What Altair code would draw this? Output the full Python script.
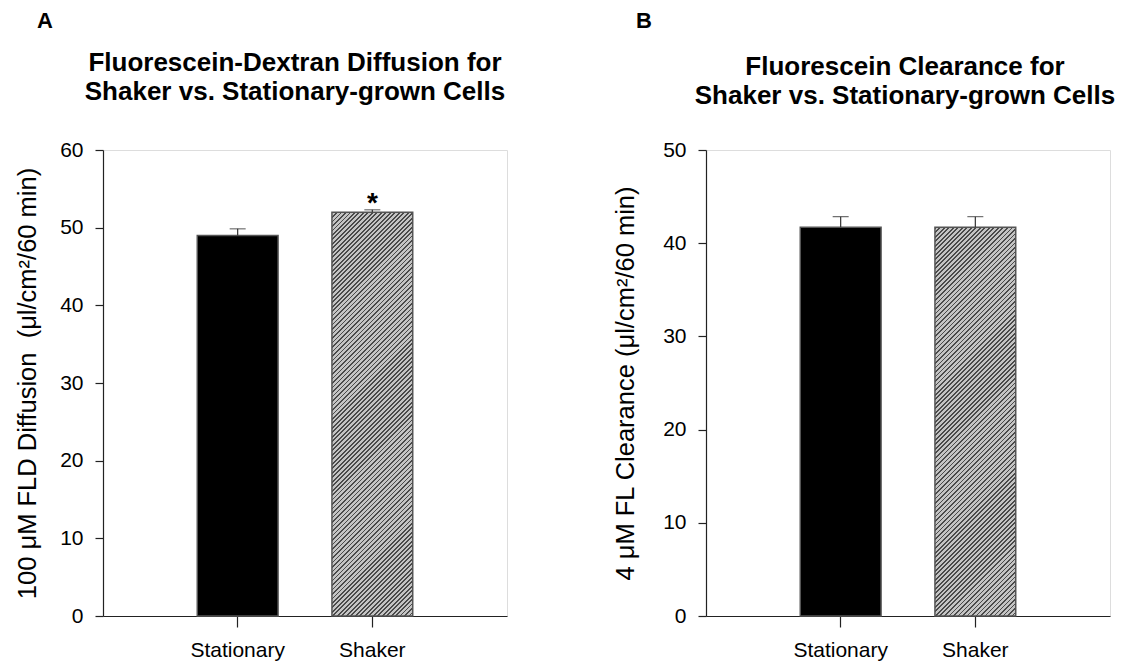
import altair as alt
import pandas as pd

# ---- values -------------------------------------------------------------
groups = ["Stationary", "Shaker"]

fld_mean = [49.0, 52.0]      # 100 uM FLD diffusion, ul/cm2/60 min
fld_sem = [0.85, 0.30]
fld_sig = ["", "*"]

fl_mean = [41.7, 41.7]       # 4 uM FL clearance, ul/cm2/60 min
fl_sem = [1.15, 1.15]
fl_sig = ["", ""]

panel_letters = ["A", "B"]
panel_titles = [
    "Fluorescein-Dextran Diffusion for\nShaker vs. Stationary-grown Cells",
    "Fluorescein Clearance for\nShaker vs. Stationary-grown Cells",
]
y_titles = [
    "100 \u03bcM FLD Diffusion\u00a0\u00a0(\u03bcl/cm\u00b2/60 min)",
    "4 \u03bcM FL Clearance (\u03bcl/cm\u00b2/60 min)",
]
y_max = [60, 50]

FONT = "Liberation Sans"
PLOT_W = 404
PLOT_H = 466


def hatch_fill(width_px, height_px, period=4.5, frac=0.38,
               dark="#4a4a4a", light="#c4c4c4"):
    """Diagonal '/' hatching built as a hard-stop linear gradient."""
    r = height_px / width_px
    s = (1 + r) / (1 + r * r)
    n = int(round((width_px + height_px) / period))
    stops = []
    for k in range(n):
        a, b, c = k / n, (k + frac) / n, (k + 1) / n
        stops += [
            alt.GradientStop(offset=a, color=dark),
            alt.GradientStop(offset=b, color=dark),
            alt.GradientStop(offset=b, color=light),
            alt.GradientStop(offset=c, color=light),
        ]
    return alt.LinearGradient(gradient="linear", stops=stops,
                              x1=0, y1=0, x2=s, y2=s * r)


def panel(mean, sem, sig, letter, title, ytitle, ymax, title_x, title_y,
          letter_x, letter_y, title_pad):
    df = pd.DataFrame({"group": groups, "mean": mean, "sem": sem, "sig": sig})
    base = alt.Chart(df).transform_calculate(top="datum.mean + datum.sem")

    x = alt.X(
        "group:N", sort=groups, title=None,
        scale=alt.Scale(paddingInner=0.4, paddingOuter=0.7),
        axis=alt.Axis(labelAngle=0, labelFontSize=21, labelFont=FONT,
                      labelColor="black", labelPadding=12, tickSize=11,
                      tickColor="#222", domainColor="#222", tickWidth=1.2,
                      domainWidth=1.2, grid=False),
    )
    y = alt.Y(
        "mean:Q", title=ytitle,
        scale=alt.Scale(domain=[0, ymax], nice=False, zero=True),
        axis=alt.Axis(values=list(range(0, ymax + 1, 10)), tickSize=8,
                      labelFontSize=21, labelFont=FONT, labelColor="black",
                      labelPadding=12, titleFontSize=25.5, titleFont=FONT,
                      titleFontWeight="normal", titleColor="black",
                      titlePadding=title_pad, tickColor="#222",
                      domainColor="#222", tickWidth=1.2, domainWidth=1.2,
                      grid=False),
    )

    band_w = 0.6 * PLOT_W / 3
    shaker_h = mean[1] / ymax * PLOT_H

    dark_bar = base.transform_filter(alt.datum.group == "Stationary").mark_bar(
        fill="black", stroke="#555", strokeWidth=1.5
    ).encode(x=x, y=y)
    hatched_bar = base.transform_filter(alt.datum.group == "Shaker").mark_bar(
        fill=hatch_fill(band_w, shaker_h), stroke="#555", strokeWidth=1.5
    ).encode(x=x, y=y)

    err = base.mark_rule(color="#333", strokeWidth=1.2).encode(
        x=x, y="mean:Q", y2="top:Q")
    cap = base.mark_tick(color="#333", size=16, thickness=1.2).encode(
        x=x, y="top:Q")
    star = base.transform_filter(alt.datum.sig != "").mark_text(
        font=FONT, fontSize=28, fontWeight="bold", baseline="alphabetic",
        dy=2, color="black"
    ).encode(x=x, y="top:Q", text="sig:N")

    head = pd.DataFrame({"letter": [letter], "title": [title]})
    letter_mark = alt.Chart(head).mark_text(
        font=FONT, fontSize=22, fontWeight="bold", align="left",
        baseline="alphabetic", color="black"
    ).encode(x=alt.value(letter_x), y=alt.value(letter_y), text="letter:N")
    title_mark = alt.Chart(head).mark_text(
        font=FONT, fontSize=26, fontWeight="bold", align="center",
        baseline="alphabetic", lineBreak="\n", lineHeight=29, color="black"
    ).encode(x=alt.value(title_x), y=alt.value(title_y), text="title:N")

    return alt.layer(dark_bar, hatched_bar, err, cap, star,
                     letter_mark, title_mark).properties(
        width=PLOT_W, height=PLOT_H)


left = panel(fld_mean, fld_sem, fld_sig, panel_letters[0], panel_titles[0],
             y_titles[0], y_max[0], title_x=192, title_y=-79,
             letter_x=-66, letter_y=-122, title_pad=19)
right = panel(fl_mean, fl_sem, fl_sig, panel_letters[1], panel_titles[1],
              y_titles[1], y_max[1], title_x=199, title_y=-75,
              letter_x=-70, letter_y=-122, title_pad=24)

chart = alt.hconcat(left, right, spacing=105).properties(
    padding={"left": 15, "top": 9, "right": 5, "bottom": 5}
).configure_view(stroke=None).configure(background="white")

chart.save("out.html", embed_options={"renderer": "svg", "actions": False})
